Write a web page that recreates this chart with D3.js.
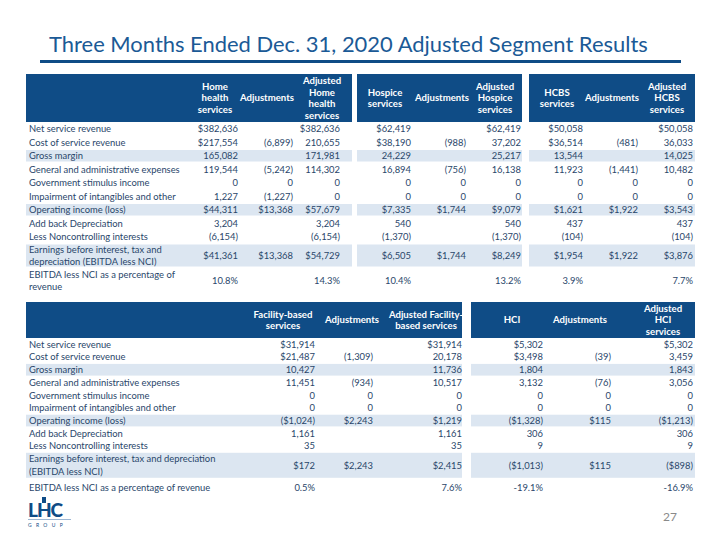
<!DOCTYPE html>
<html><head><meta charset="utf-8">
<script src="https://cdn.jsdelivr.net/npm/d3@7"></script>
<style>
html,body{margin:0;padding:0;background:#fff;}
svg{display:block;font-family:Lato,"Open Sans",sans-serif;}
</style></head>
<body><svg id="c" width="720" height="540"></svg>
<script>
// ---------- data ----------
const titleText = "Three Months Ended Dec. 31, 2020 Adjusted Segment Results";
const pageNumber = "27";

const topRowLabels = [
  ["Net service revenue"],["Cost of service revenue"],["Gross margin"],
  ["General and administrative expenses"],["Government stimulus income"],
  ["Impairment of intangibles and other"],["Operating income (loss)"],
  ["Add back Depreciation"],["Less Noncontrolling interests"],
  ["Earnings before interest, tax and","depreciation (EBITDA less NCI)"],
  ["EBITDA less NCI as a percentage of","revenue"]
];
const bottomRowLabels = [
  ["Net service revenue"],["Cost of service revenue"],["Gross margin"],
  ["General and administrative expenses"],["Government stimulus income"],
  ["Impairment of intangibles and other"],["Operating income (loss)"],
  ["Add back Depreciation"],["Less Noncontrolling interests"],
  ["Earnings before interest, tax and depreciation","(EBITDA less NCI)"],
  ["EBITDA less NCI as a percentage of revenue"]
];
const bandRows = [2, 6, 9];

const topHeaders = [
  ["Home","health","services"], ["Adjustments"], ["Adjusted","Home","health","services"],
  ["Hospice","services"], ["Adjustments"], ["Adjusted","Hospice","services"],
  ["HCBS","services"], ["Adjustments"], ["Adjusted","HCBS","services"]
];
const bottomHeaders = [
  ["Facility-based","services"], ["Adjustments"], ["Adjusted Facility-","based services"],
  ["HCI"], ["Adjustments"], ["Adjusted","HCI","services"]
];

const homeHealth         = ["$382,636","$217,554","165,082","119,544","0","1,227","$44,311","3,204","(6,154)","$41,361","10.8%"];
const homeHealthAdj      = ["","(6,899)","","(5,242)","0","(1,227)","$13,368","","","$13,368",""];
const homeHealthAdjusted = ["$382,636","210,655","171,981","114,302","0","0","$57,679","3,204","(6,154)","$54,729","14.3%"];
const hospice            = ["$62,419","$38,190","24,229","16,894","0","0","$7,335","540","(1,370)","$6,505","10.4%"];
const hospiceAdj         = ["","(988)","","(756)","0","0","$1,744","","","$1,744",""];
const hospiceAdjusted    = ["$62,419","37,202","25,217","16,138","0","0","$9,079","540","(1,370)","$8,249","13.2%"];
const hcbs               = ["$50,058","$36,514","13,544","11,923","0","0","$1,621","437","(104)","$1,954","3.9%"];
const hcbsAdj            = ["","(481)","","(1,441)","0","0","$1,922","","","$1,922",""];
const hcbsAdjusted       = ["$50,058","36,033","14,025","10,482","0","0","$3,543","437","(104)","$3,876","7.7%"];

const facility           = ["$31,914","$21,487","10,427","11,451","0","0","($1,024)","1,161","35","$172","0.5%"];
const facilityAdj        = ["","(1,309)","","(934)","0","0","$2,243","","","$2,243",""];
const facilityAdjusted   = ["$31,914","20,178","11,736","10,517","0","0","$1,219","1,161","35","$2,415","7.6%"];
const hci                = ["$5,302","$3,498","1,804","3,132","0","0","($1,328)","306","9","($1,013)","-19.1%"];
const hciAdj             = ["","(39)","","(76)","0","0","$115","","","$115",""];
const hciAdjusted        = ["$5,302","3,459","1,843","3,056","0","0","($1,213)","306","9","($898)","-16.9%"];

// ---------- style / layout ----------
const C = {
  title: "#1b5a96", rule: "#0f4c86", head: "#0f4c86", band: "#dce6f1",
  text: "#29466a", page: "#8a8a8a"
};
const FS = 9.4;
const HFS = 9.6;

const svg = d3.select("#c");

// title
svg.append("text").attr("x", 49).attr("y", 52)
  .attr("font-size", 23).attr("fill", C.title)
  .attr("font-family", "Lato, sans-serif")
  .text(titleText)
  .each(function(){ const w=this.getComputedTextLength(); const tw=599; d3.select(this).attr("font-size", 23*tw/w); });
svg.append("line").attr("x1", 40).attr("x2", 681).attr("y1", 61.5).attr("y2", 61.5)
  .attr("stroke", C.rule).attr("stroke-width", 3);

function drawTable(cfg) {
  const g = svg.append("g");
  const n = cfg.labels.length;
  const heights = cfg.rowHeights;
  const tops = [cfg.bodyTop];
  heights.forEach((h,i)=> tops.push(tops[i]+h));
  const yTop = d3.scaleOrdinal().domain(d3.range(n)).range(tops.slice(0,n));
  const yMid = d3.scaleOrdinal().domain(d3.range(n)).range(d3.range(n).map(i=>tops[i]+heights[i]/2));
  const colRight = d3.scaleOrdinal().domain(d3.range(cfg.cols.length)).range(cfg.colRight);
  const colCenter = d3.scaleOrdinal().domain(d3.range(cfg.cols.length)).range(cfg.colCenter);

  // header blocks
  g.selectAll("rect.hb").data(cfg.blocks).join("rect")
    .attr("x", d=>d[0]).attr("width", d=>d[1]-d[0])
    .attr("y", cfg.headTop).attr("height", cfg.bodyTop-cfg.headTop)
    .attr("fill", C.head);
  // bands
  bandRows.forEach(r=>{
    g.selectAll(null).data(cfg.blocks).join("rect")
      .attr("x", d=>d[0]).attr("width", d=>d[1]-d[0])
      .attr("y", yTop(r)+cfg.bandInset).attr("height", heights[r]-2*cfg.bandInset)
      .attr("fill", C.band);
  });
  // header text
  const hMid = (cfg.headTop+cfg.bodyTop)/2;
  const lh = cfg.headLine;
  cfg.headers.forEach((lines,ci)=>{
    const t = g.append("text").attr("text-anchor","middle").attr("fill","#fff")
      .attr("font-weight",700).attr("font-size",HFS);
    lines.forEach((s,k)=>{
      t.append("tspan").attr("x", colCenter(ci))
        .attr("y", hMid + (k-(lines.length-1)/2)*lh).attr("dy","0.36em").text(s);
    });
  });
  // row labels
  cfg.labels.forEach((lines,ri)=>{
    const t = g.append("text").attr("fill",C.text).attr("font-size",FS);
    lines.forEach((s,k)=>{
      t.append("tspan").attr("x", cfg.labelX)
        .attr("y", yMid(ri) + (k-(lines.length-1)/2)*cfg.bodyLine).attr("dy","0.36em").text(s);
    });
  });
  // values
  cfg.cols.forEach((vals,ci)=>{
    g.selectAll(null).data(vals).join("text")
      .attr("x", colRight(ci)).attr("y",(d,i)=>yMid(i)).attr("dy","0.36em")
      .attr("text-anchor","end").attr("fill",C.text).attr("font-size",FS)
      .text(d=>d);
  });
}

drawTable({
  labels: topRowLabels, headers: topHeaders,
  cols: [homeHealth, homeHealthAdj, homeHealthAdjusted, hospice, hospiceAdj, hospiceAdjusted, hcbs, hcbsAdj, hcbsAdjusted],
  colRight: [238, 293, 340, 411, 466, 521, 583, 638, 693],
  colCenter: [215, 267, 322, 385, 442, 495, 557, 612, 667],
  blocks: [[26,352],[357,522],[529,695]],
  headTop: 74, bodyTop: 122, headLine: 11.6,
  rowHeights: [13.5,13.5,13.5,13.5,13.5,13.5,13.5,13.5,13.5,24,26],
  bodyLine: 12, labelX: 29, bandInset: 1
});

drawTable({
  labels: bottomRowLabels, headers: bottomHeaders,
  cols: [facility, facilityAdj, facilityAdjusted, hci, hciAdj, hciAdjusted],
  colRight: [315, 373, 462, 543, 611, 693],
  colCenter: [283, 352, 426, 512, 580, 663],
  blocks: [[26,462],[471,695]],
  headTop: 302, bodyTop: 338, headLine: 11.6,
  rowHeights: [12.7,12.7,12.7,12.7,12.7,12.7,12.7,12.7,12.7,26,18],
  bodyLine: 12.5, labelX: 29, bandInset: 0.5
});

// logo
const logo = svg.append("g");
logo.append("text").attr("x", 28).attr("y", 517).attr("font-size", 19).attr("font-weight", 900)
  .attr("font-family","Lato, sans-serif").attr("fill","#0f4c86").attr("letter-spacing",-1).text("LHC");
logo.append("rect").attr("x",42).attr("y",497).attr("width",4).attr("height",6).attr("fill","#0f4c86");
logo.append("line").attr("x1",28).attr("x2",71).attr("y1",519.5).attr("y2",519.5).attr("stroke","#9db7d3").attr("stroke-width",1);
logo.append("text").attr("x", 28).attr("y", 527).attr("font-size", 5).attr("letter-spacing", 4.3)
  .attr("fill","#0f4c86").text("GROUP");

svg.append("text").attr("x", 677).attr("y", 521).attr("text-anchor","end")
  .attr("font-size", 12).attr("fill", C.page).text(pageNumber);
</script></body></html>
